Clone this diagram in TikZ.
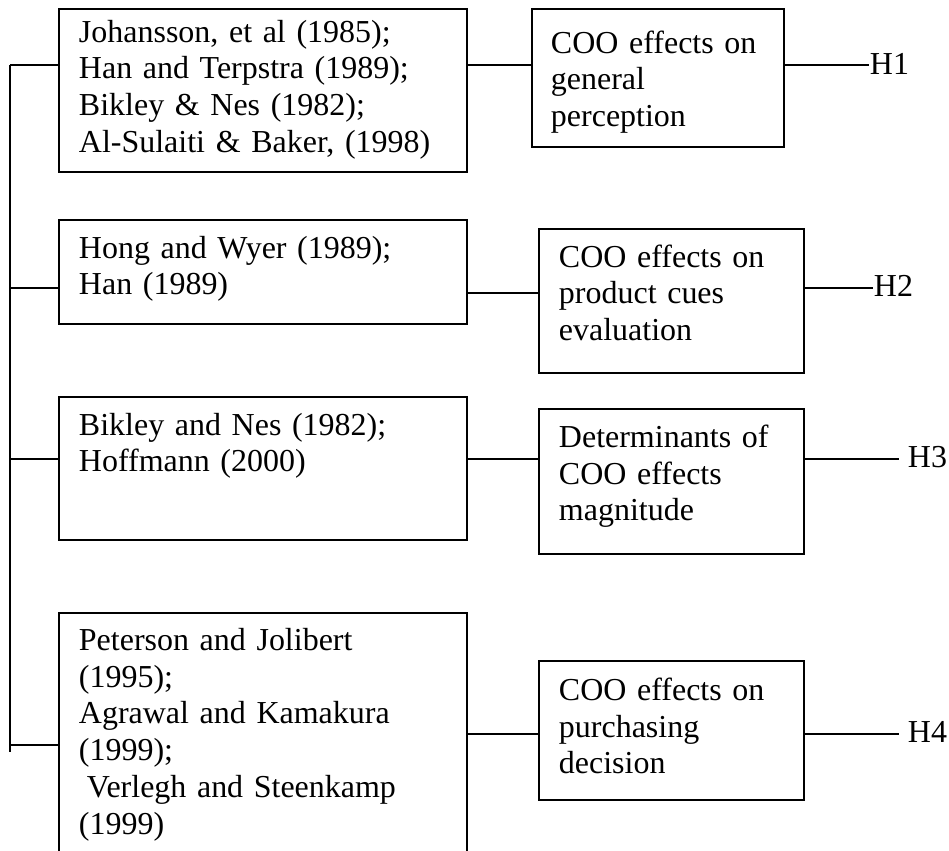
\documentclass[tikz,border=0pt]{standalone}
\usepackage{fontspec}
\setmainfont{Liberation Serif}

\begin{document}
\begin{tikzpicture}[x=0.02cm,y=-0.02cm,line width=1.1pt,
        refbox/.style={draw,anchor=north west,inner sep=0pt},
        reftext/.style={anchor=base west,inner sep=0pt,align=left,text width=8.6cm,
            font=\fontsize{18.2}{21.05}\selectfont},
        hyp/.style={anchor=base west,inner sep=0pt,font=\fontsize{18.2}{21.05}\selectfont}]
        \clip (0,0) rectangle (949,850);
        % row levels
        \coordinate (r1) at (0,65);
        \coordinate (r2) at (0,288);
        \coordinate (q2) at (0,293);
        \coordinate (r3) at (0,459);
        \coordinate (r4) at (0,745);
        \coordinate (q4) at (0,734);

        % literature boxes
        \node[refbox,minimum width=8.16cm,minimum height=3.26cm] (a1) at (58,8) {};
        \node[refbox,minimum width=8.16cm,minimum height=2.08cm] (a2) at (58,219) {};
        \node[refbox,minimum width=8.16cm,minimum height=2.86cm] (a3) at (58,396) {};
        \node[refbox,minimum width=8.16cm,minimum height=5.2cm] (a4) at (58,612) {};
        \node[reftext] (a1t) at (78,42) {Johansson, et al (1985);\\Han and Terpstra (1989);\\Bikley \& Nes (1982);\\Al-Sulaiti \& Baker, (1998)};
        \node[reftext] (a2t) at (78,258) {Hong and Wyer (1989);\\Han (1989)};
        \node[reftext] (a3t) at (78,435) {Bikley and Nes (1982);\\Hoffmann (2000)};
        \node[reftext] (a4t) at (78,650) {Peterson and Jolibert\\(1995);\\Agrawal and Kamakura\\(1999);\\\hspace*{.25em}Verlegh and Steenkamp\\(1999)};

        % effect boxes
        \node[refbox,minimum width=5.04cm,minimum height=2.76cm] (b1) at (531,8) {};
        \node[refbox,minimum width=5.3cm,minimum height=2.88cm] (b2) at (538,228) {};
        \node[refbox,minimum width=5.3cm,minimum height=2.9cm] (b3) at (538,408) {};
        \node[refbox,minimum width=5.3cm,minimum height=2.78cm] (b4) at (538,660) {};
        \node[reftext] (b1t) at (550,53) {COO effects on\\general\\perception};
        \node[reftext] (b2t) at (558,267) {COO effects on\\product cues\\evaluation};
        \node[reftext] (b3t) at (558,447) {Determinants of\\COO effects\\magnitude};
        \node[reftext] (b4t) at (558,700) {COO effects on\\purchasing\\decision};

        % hypotheses
        \node[hyp] (h1) at (869,74) {H1};
        \node[hyp] (h2) at (873,296) {H2};
        \node[hyp] (h3) at (907,467) {H3};
        \node[hyp] (h4) at (907,742) {H4};
        \coordinate (h3end) at (899,459);
        \coordinate (h4end) at (899,734);

        % spine on the left
        \coordinate (spinetop) at (10,65);
        \coordinate (spinebot) at (10,752);
        \draw (spinetop) -- (spinebot);
        \draw (spinetop) -- (a1.west |- r1);
        \draw (spinetop |- r2) -- (a2.west |- r2);
        \draw (spinetop |- r3) -- (a3.west |- r3);
        \draw (spinetop |- r4) -- (a4.west |- r4);

        \draw (a1.east |- r1) -- (b1.west |- r1);
        \draw (a2.east |- q2) -- (b2.west |- q2);
        \draw (a3.east |- r3) -- (b3.west |- r3);
        \draw (a4.east |- q4) -- (b4.west |- q4);

        \draw (b1.east |- r1) -- (h1.west |- r1);
        \draw (b2.east |- r2) -- (h2.west |- r2);
        \draw (b3.east |- h3end) -- (h3end);
        \draw (b4.east |- h4end) -- (h4end);
\end{tikzpicture}
\end{document}
